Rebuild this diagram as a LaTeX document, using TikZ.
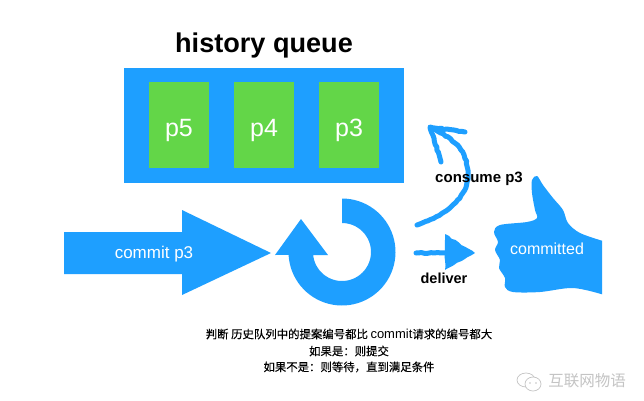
\documentclass[tikz,border=0pt]{standalone}
\usepackage{fontspec}
\setmainfont{Liberation Sans}
\newfontfamily\cjk[FakeBold=0.25]{Noto Sans CJK SC}
\newfontfamily\cjkplain{Noto Sans CJK SC}
\usetikzlibrary{decorations.pathmorphing}
\definecolor{qblue}{HTML}{1E9FFF}
\definecolor{qgreen}{HTML}{63D648}
\definecolor{wgray}{HTML}{C4C4C4}
\tikzset{
  x=1pt,y=-1pt,
  slot/.style={fill=qgreen,draw=none,minimum width=60pt,minimum height=86pt,inner sep=0pt,text=white,font=\fontsize{25}{28}\selectfont,text height=22pt,text depth=0pt},
  whitelabel/.style={text=white,inner sep=0pt},
  blacklabel/.style={text=black,inner sep=0pt,font=\fontsize{15}{17}\selectfont\bfseries},
  chalk/.style={draw=qblue,line width=5pt,line cap=round,line join=round,decorate,decoration={random steps,segment length=3pt,amplitude=0.5pt}},
  note/.style={text=black,inner sep=0pt,font=\fontsize{11.4}{13}\selectfont\cjk},
}
\begin{document}
\begin{tikzpicture}
\useasboundingbox (0,0) rectangle (644,400);
\fill[white] (0,0) rectangle (644,400);
% title and queue
\node[inner sep=0pt,font=\fontsize{27.1}{30}\selectfont\bfseries] (title) at (264,45) {history queue};
\fill[qblue] (124,68) rectangle (404,183);
\node[slot] (p5) at (179,125) {p5};
\node[slot] (p4) at (264,125) {p4};
\node[slot] (p3) at (349,125) {p3};
% big arrow
\fill[qblue] (64,232) -- (182,232) -- (182,210) -- (271,253) -- (182,295) -- (182,274) -- (64,274) -- cycle;
\node[whitelabel,font=\fontsize{17}{20}\selectfont] (commit) at (154,254) {commit p3};
% circular arrow
\fill[qblue] plot[smooth,domain=-90:177,samples=60] ({342+53.5*cos(\x)},{252+53.5*sin(\x)})
  -- (275,255) -- (301,219) -- (328,255) -- (313,255)
  -- plot[smooth,domain=174:-90,samples=60] ({342+29*cos(\x)},{252+29*sin(\x)}) -- cycle;
% consume arrow
\draw[chalk] (417,225) .. controls (452,212) and (478,192) .. (464,155) .. controls (458,143) and (445,134) .. (431,128);
\draw[chalk] (465,132) -- (430,127) -- (441,162);
\node[blacklabel] (consume) at (479,179) {consume p3};
% deliver arrow
\draw[chalk] (416,253) -- (450,253);
\fill[qblue,decorate,decoration={random steps,segment length=4pt,amplitude=0.6pt}] (445,234) -- (475,253) -- (445,270) -- cycle;
\node[blacklabel,font=\fontsize{14.5}{17}\selectfont\bfseries] (deliver) at (444,278) {deliver};
% thumb
\fill[qblue] plot[smooth,tension=0.55] coordinates {
 (602,240.7) (580,233) (568,223) (563,210) (553,198) (543,185) (537,176) (532,180) (532,193) (535,210) (537,218)
 (527,222) (500,225) (494,232) (498,242) (495,250) (500,260) (499,268) (505,278) (505,287) (513,292) (540,292) (573,288) (602,294.3)
} -- cycle;
\node[whitelabel,font=\fontsize{16}{19}\selectfont] (committed) at (547,249) {committed};
% note
\node[note] (l1) at (349,334) {判断 历史队列中的提案编号都比 {\fontspec{Liberation Sans}\fontsize{13}{13}\selectfont commit}请求的编号都大};
\node[note] (l2) at (349,351) {如果是：则提交};
\node[note] (l3) at (349,367) {如果不是：则等待，直到满足条件};
% watermark
\draw[wgray,line width=0.7pt] (526,380) ellipse[x radius=9,y radius=7];
\fill[white] (533,384) ellipse[x radius=8,y radius=7];
\draw[wgray,line width=0.7pt] (533,384) ellipse[x radius=8,y radius=7];
\fill[wgray] (530,383) circle (0.8) (536,383) circle (0.8);
\node[inner sep=0pt,text=wgray,font=\fontsize{15.5}{18}\selectfont\cjkplain] (mark) at (587,381) {互联网物语};
\end{tikzpicture}
\end{document}
